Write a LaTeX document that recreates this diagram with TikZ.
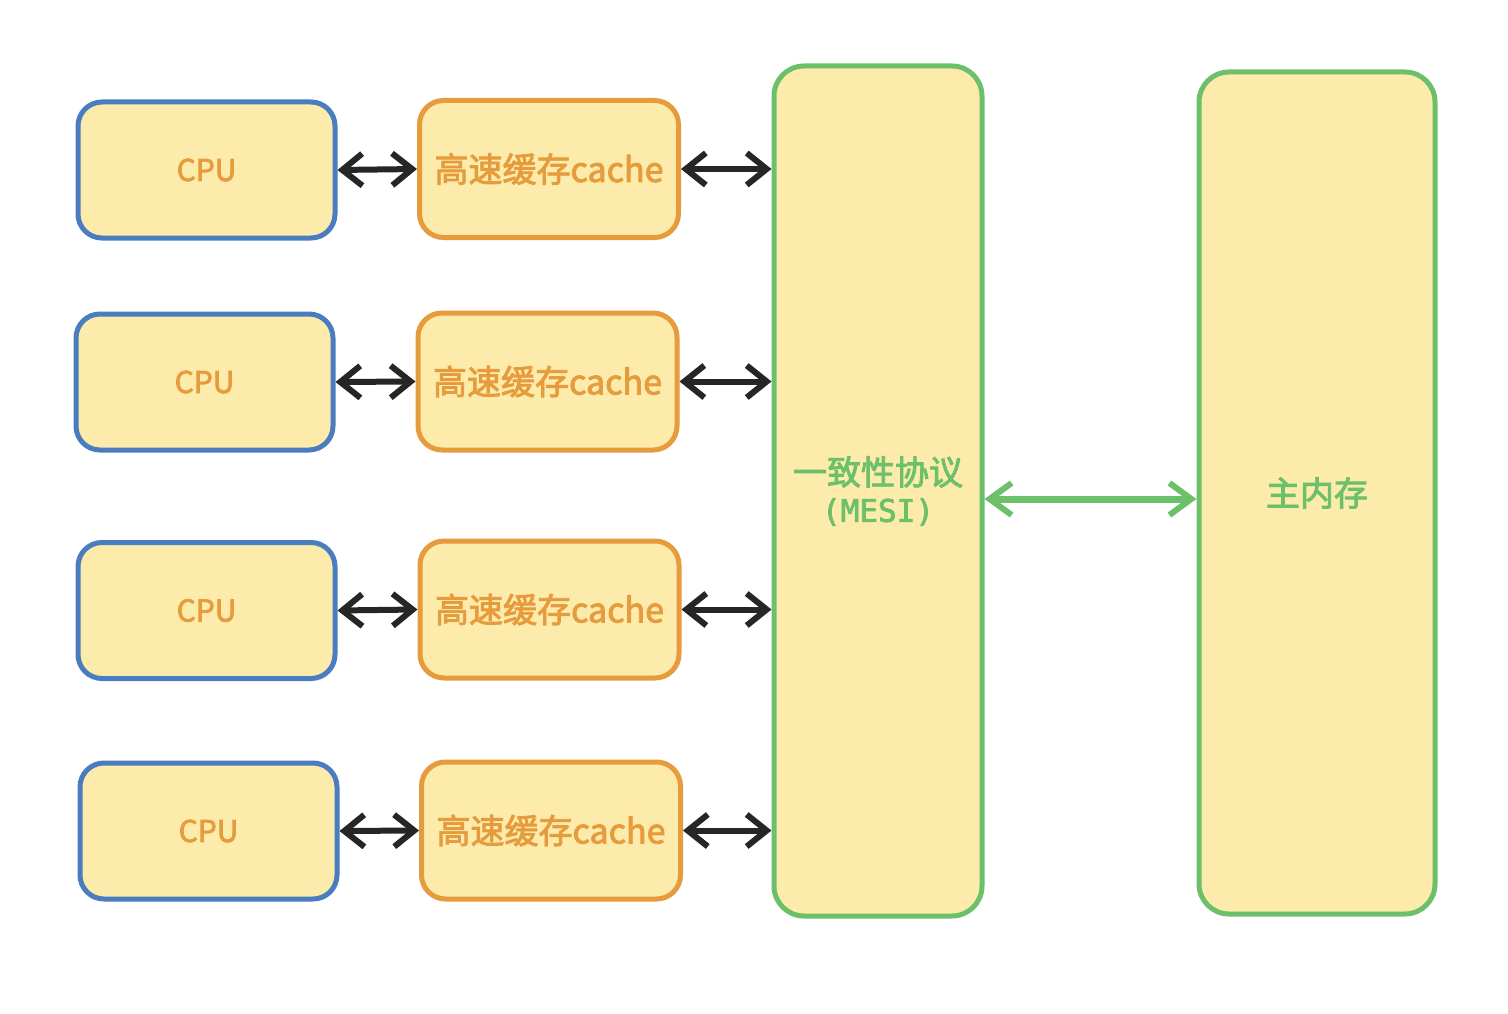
\documentclass[tikz,border=0pt]{standalone}
\usepackage{fontspec}
\newfontfamily\cjk[FakeBold=2.5]{Noto Sans CJK SC}
\newfontfamily\mono[FakeBold=2.5]{DejaVu Sans Mono}
\usetikzlibrary{arrows.meta}
\definecolor{fillc}{HTML}{FCEBAA}
\definecolor{bluec}{HTML}{4A7DC0}
\definecolor{orangec}{HTML}{E69B3C}
\definecolor{greenc}{HTML}{6CC06A}
\definecolor{arrowc}{HTML}{262626}
\tikzset{
  basebox/.style={draw, line width=5pt, rounded corners=24pt, fill=fillc, inner sep=0pt, font=\cjk\fontsize{34}{40}\selectfont},
  cpubox/.style={basebox, draw=bluec, text=orangec, minimum width=257pt, minimum height=136pt, font=\cjk\fontsize{30}{36}\selectfont},
  cachebox/.style={basebox, draw=orangec, text=orangec, minimum width=259pt, minimum height=137pt},
  bigbox/.style={basebox, draw=greenc, text=greenc, rounded corners=30pt, align=center},
  biarrow/.style={line width=6pt, draw=arrowc, line cap=round, {Straight Barb[length=20pt,width=32pt,line width=6pt]}-{Straight Barb[length=20pt,width=32pt,line width=6pt]}},
  greenarrow/.style={line width=7pt, draw=greenc, line cap=round, {Straight Barb[length=22pt,width=32pt,line width=6pt]}-{Straight Barb[length=22pt,width=32pt,line width=6pt]}}
}
\begin{document}
\begin{tikzpicture}[x=1pt,y=-1pt]
\useasboundingbox[fill=white] (0,0) rectangle (1508,1014);
\node[cpubox] (cpu1) at (206.5,170) {CPU};
\node[cpubox] (cpu2) at (204.5,382) {CPU};
\node[cpubox] (cpu3) at (206.5,610.5) {CPU};
\node[cpubox] (cpu4) at (208.5,831) {CPU};
\node[cachebox] (cache1) at (549,169) {高速缓存cache};
\node[cachebox] (cache2) at (547.5,381.5) {高速缓存cache};
\node[cachebox] (cache3) at (549.5,609.5) {高速缓存cache};
\node[cachebox] (cache4) at (551,830.5) {高速缓存cache};
\node[bigbox, minimum width=208pt, minimum height=850pt] (mesi) at (878,491) {一致性协议\\[-3pt]{\mono\fontsize{31}{36}\selectfont(MESI)}};
\node[bigbox, minimum width=236pt, minimum height=842pt] (mem) at (1317,493) {主内存};
\draw[biarrow] (cpu1.east) -- (cache1.west);
\draw[biarrow] (cpu2.east) -- (cache2.west);
\draw[biarrow] (cpu3.east) -- (cache3.west);
\draw[biarrow] (cpu4.east) -- (cache4.west);
\draw[biarrow] (cache1.east) -- (cache1.east -| mesi.west);
\draw[biarrow] (cache2.east) -- (cache2.east -| mesi.west);
\draw[biarrow] (cache3.east) -- (cache3.east -| mesi.west);
\draw[biarrow] (cache4.east) -- (cache4.east -| mesi.west);
\draw[greenarrow] ([yshift=-8pt]mesi.east) -- ([yshift=-8pt]mesi.east -| mem.west);
\end{tikzpicture}
\end{document}
